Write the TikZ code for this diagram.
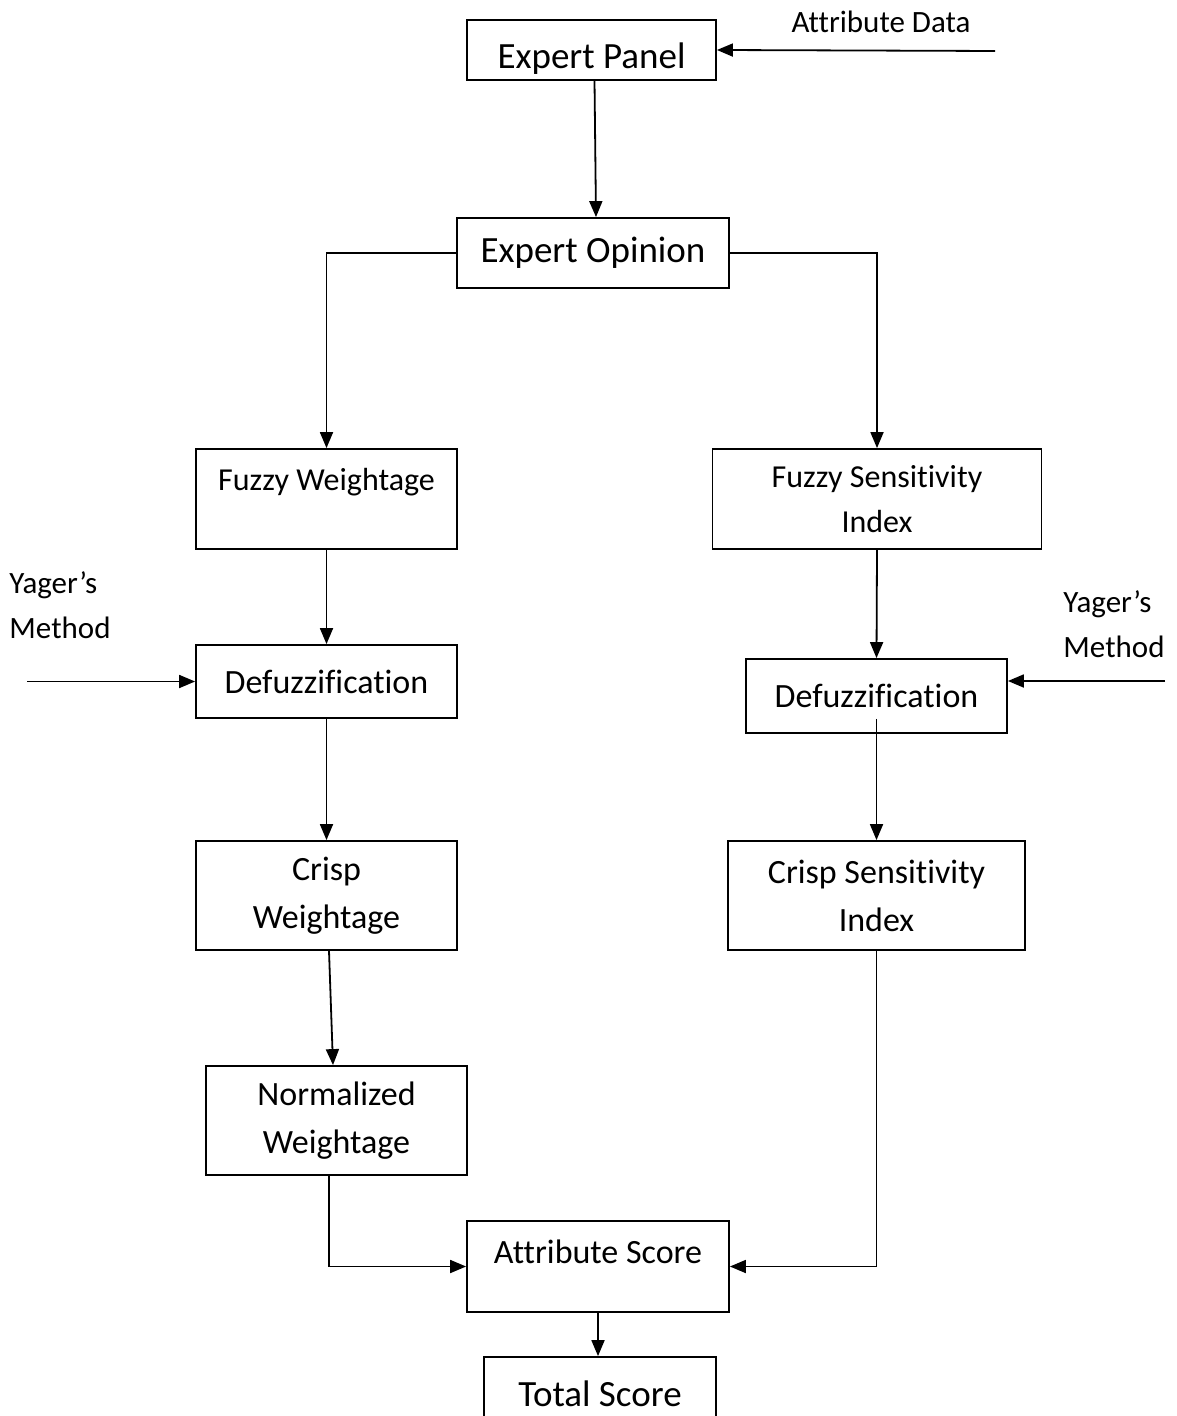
\documentclass[tikz,border=0pt]{standalone}
\usepackage{fontspec}
\setmainfont{Carlito}[Ligatures=NoCommon,RawFeature={-liga;-clig;-dlig}]
\usetikzlibrary{arrows.meta}
\begin{document}
\begin{tikzpicture}[x=0.5pt,y=-0.5pt,line width=0.9pt,
      kotak/.style={draw,inner sep=0pt,align=center},
      panah/.style={-{Triangle[length=8pt,width=6.5pt]}},
      besar/.style={font=\fontsize{18.5}{22}\selectfont},
      sedang/.style={font=\fontsize{17}{24}\selectfont},
      kecil/.style={font=\fontsize{16}{22.5}\selectfont},
      catatan/.style={font=\fontsize{15.5}{22.5}\selectfont,align=left}]
    \useasboundingbox (0,0) rectangle (1176,1416);
    % Panel dan opini pakar
    \node[kotak,besar,minimum width=124.5pt,minimum height=30pt,text height=21pt] (panel) at (591.5,50) {Expert Panel};
    \node[kotak,besar,minimum width=136pt,minimum height=35pt] (opini) at (593,253) {Expert Opinion};
    \coordinate (dataIn) at (995,51);
    \node[catatan] (data) at (881,22) {Attribute Data};
    \draw[panah] (dataIn) -- (panel.east);
    \draw[panah] ([xshift=1.5pt]panel.south) -- ([xshift=1.5pt]opini.north);
    % Cabang bobot (kiri)
    \node[kotak,kecil,minimum width=130.5pt,minimum height=50pt,text depth=20pt] (fw) at (326.5,499) {Fuzzy Weightage};
    \node[kotak,sedang,minimum width=130.5pt,minimum height=36.5pt] (dl) at (326.5,681.5) {Defuzzification};
    \node[kotak,sedang,minimum width=130.5pt,minimum height=54.5pt] (cw) at (326.5,895.5) {Crisp\\Weightage};
    \node[kotak,sedang,minimum width=130.5pt,minimum height=54.5pt] (nw) at (336.5,1120.5) {Normalized\\Weightage};
    \node[catatan] (yagerL) at (60,605) {Yager’s\\Method};
    \coordinate (yl) at (27,681.5);
    % Cabang sensitivitas (kanan)
    \node[kotak,kecil,minimum width=164.5pt,minimum height=50pt] (fsi) at (877,499) {Fuzzy Sensitivity\\Index};
    \node[kotak,sedang,minimum width=130.5pt,minimum height=37pt] (dr) at (876.5,696) {Defuzzification};
    \node[kotak,sedang,minimum width=148.5pt,minimum height=54.5pt] (csi) at (876.5,895.5) {Crisp Sensitivity\\Index};
    \node[catatan] (yagerR) at (1114,624) {Yager’s\\Method};
    \coordinate (yr) at (1165,681);
    % Skor
    \node[kotak,sedang,minimum width=131pt,minimum height=45.5pt,text depth=15pt] (skor) at (598,1266.5) {Attribute Score};
    \node[kotak,besar,minimum width=116pt,minimum height=36.5pt] (total) at (600,1393.5) {Total Score};
    % Penghubung
    \draw[panah] (opini.west) -| (fw.north);
    \draw[panah] (opini.east) -| (fsi.north);
    \draw[panah] (fw.south) -- (dl.north);
    \draw[panah] (yl) -- (dl.west);
    \draw[panah] (dl.south) -- (cw.north);
    \draw[panah] ([xshift=1.25pt]cw.south) -- ([xshift=-1.75pt]nw.north);
    \draw[panah] ([xshift=-3.75pt]nw.south) |- (skor.west);
    \draw[panah] (fsi.south) -- (dr.north);
    \draw[panah] (yr) -- (yr -| dr.east);
    \draw[panah] ([yshift=7.5pt]dr.south) -- (csi.north);
    \draw[panah] (csi.south) |- (skor.east);
    \draw[panah] (skor.south) -- (skor.south |- total.north);
  \end{tikzpicture}
\end{document}
